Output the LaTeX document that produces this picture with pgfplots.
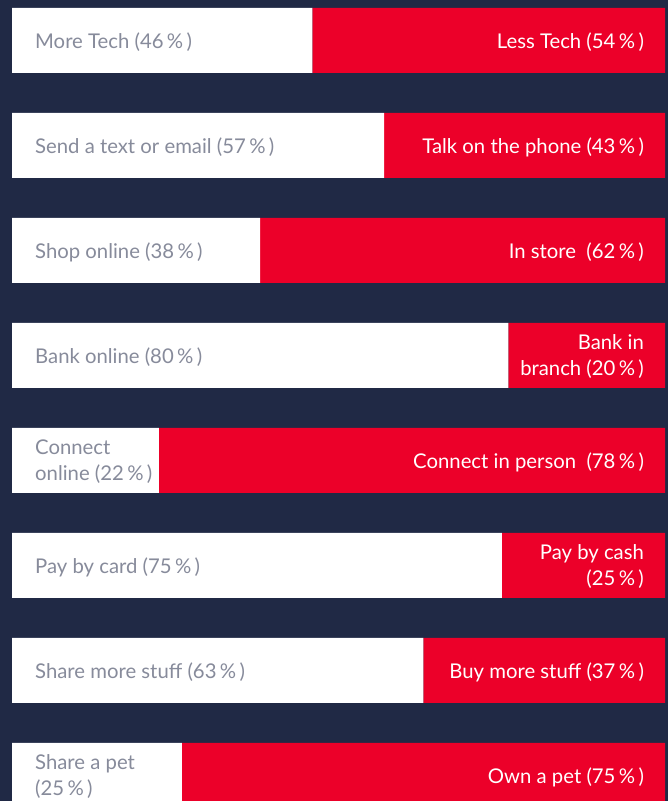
\documentclass[border=0pt]{standalone}
\usepackage{fontspec}
\setmainfont{Lato}
\usepackage{pgfplots}
\usepackage{pgfplotstable}
\pgfplotsset{compat=1.18}
\definecolor{navy}{RGB}{32,41,69}
\definecolor{sred}{RGB}{236,0,41}
\definecolor{lgray}{RGB}{135,139,155}

% drawn shares (left part, right part) per row, top to bottom
\pgfplotstableread{
idx left right
0 46 54
1 57 43
2 38 62
3 76 24
4 22.5 77.5
5 75 25
6 63 37
7 26 74
}\shares

\tikzset{
  leftlab/.style={font=\fontsize{20.3pt}{26pt}\selectfont, anchor=west, align=left, text=lgray, inner sep=0pt, yshift=-1.5pt},
  rightlab/.style={font=\fontsize{20.3pt}{26pt}\selectfont, anchor=east, align=right, text=white, inner sep=0pt, yshift=-1.5pt},
}

\begin{document}
\begin{tikzpicture}
\fill[navy] (0,0) rectangle (668pt,801pt);
\begin{axis}[
    at={(0,0)}, anchor=south west,
    width=668pt, height=801pt, scale only axis,
    xbar stacked, bar width=65pt,
    y dir=reverse,
    xmin=-1.838, xmax=100.46,
    ymin=-0.3857, ymax=7.243,
    axis lines=none, ticks=none,
]
\addplot[fill=white, draw=none] table[x=left, y=idx] {\shares};
\addplot[fill=sred, draw=none] table[x=right, y=idx] {\shares};
\coordinate (L0) at (axis cs:3.52,0); \coordinate (R0) at (axis cs:96.8,0);
\coordinate (L1) at (axis cs:3.52,1); \coordinate (R1) at (axis cs:96.8,1);
\coordinate (L2) at (axis cs:3.52,2); \coordinate (R2) at (axis cs:96.8,2);
\coordinate (L3) at (axis cs:3.52,3); \coordinate (R3) at (axis cs:96.8,3);
\coordinate (L4) at (axis cs:3.52,4); \coordinate (R4) at (axis cs:96.8,4);
\coordinate (L5) at (axis cs:3.52,5); \coordinate (R5) at (axis cs:96.8,5);
\coordinate (L6) at (axis cs:3.52,6); \coordinate (R6) at (axis cs:96.8,6);
\coordinate (L7) at (axis cs:3.52,7); \coordinate (R7) at (axis cs:96.8,7);
\end{axis}
% labels drawn after the axis so they sit on top of the stacked bars
\node[leftlab] at (L0) {More Tech (46\,\%\,)};
\node[leftlab] at (L1) {Send a text or email (57\,\%\,)};
\node[leftlab] at (L2) {Shop online (38\,\%\,)};
\node[leftlab] at (L3) {Bank online (80\,\%\,)};
\node[leftlab] at (L4) {Connect\\online (22\,\%\,)};
\node[leftlab] at (L5) {Pay by card (75\,\%\,)};
\node[leftlab] at (L6) {Share more stuff (63\,\%\,)};
\node[leftlab] at (L7) {Share a pet\\(25\,\%\,)};

\node[rightlab] at (R0) {Less Tech (54\,\%\,)};
\node[rightlab] at (R1) {Talk on the phone (43\,\%\,)};
\node[rightlab] at (R2) {In store\ \ (62\,\%\,)};
\node[rightlab] at (R3) {Bank in\\branch (20\,\%\,)};
\node[rightlab] at (R4) {Connect in person\ \ (78\,\%\,)};
\node[rightlab] at (R5) {Pay by cash\\(25\,\%\,)};
\node[rightlab] at (R6) {Buy more stuff (37\,\%\,)};
\node[rightlab] at (R7) {Own a pet (75\,\%\,)};
\end{tikzpicture}
\end{document}
